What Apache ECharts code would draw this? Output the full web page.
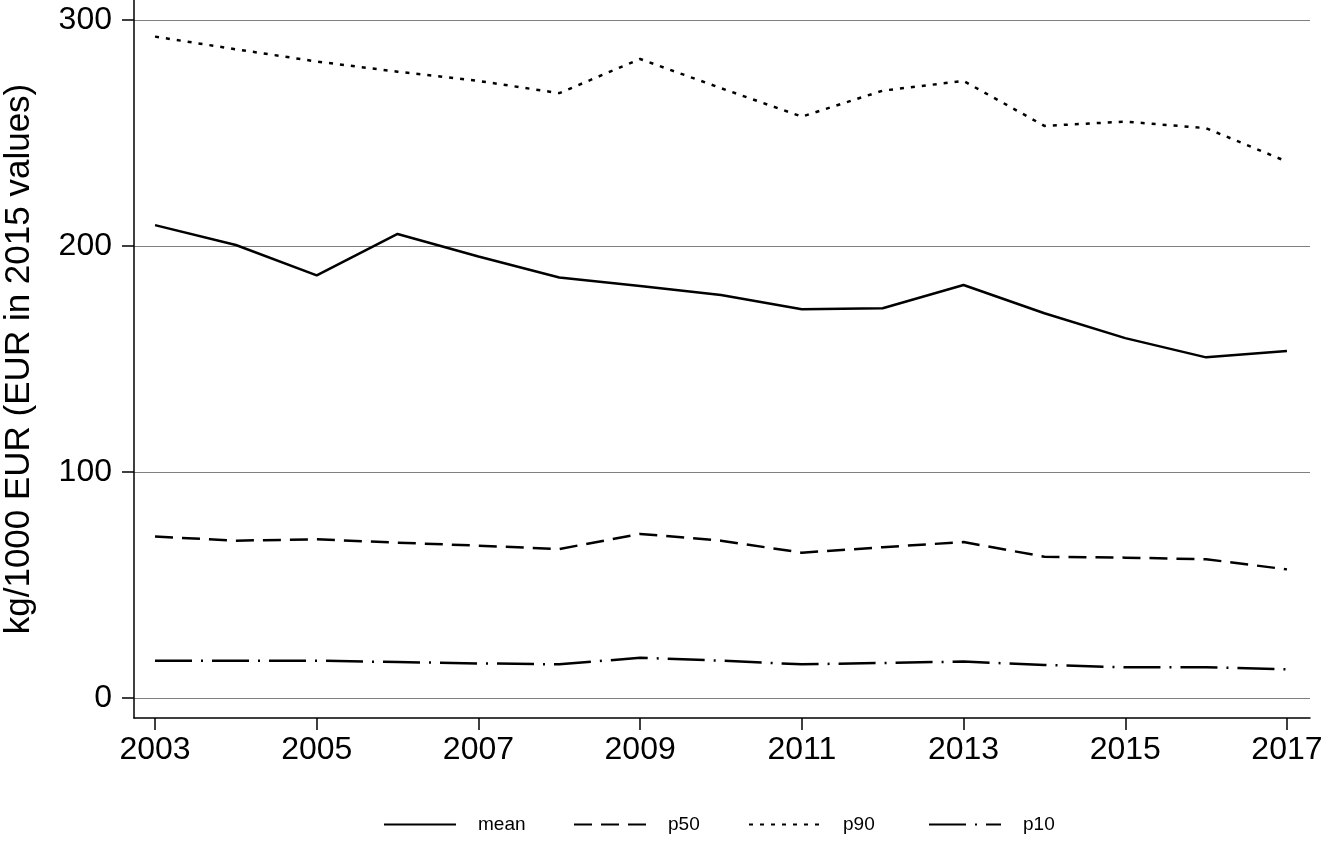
<!DOCTYPE html>
<html>
<head>
<meta charset="utf-8">
<script src="https://cdn.jsdelivr.net/npm/echarts@6/dist/echarts.min.js"></script>
<style>
html,body{margin:0;padding:0;background:#fff;}
#c{width:1323px;height:851px;}
</style>
</head>
<body>
<div id="c"></div>
<script>
const years = [2003,2004,2005,2006,2007,2008,2009,2010,2011,2012,2013,2014,2015,2016,2017];
const meanVals = [209.2,200.4,187.0,205.3,195.3,186.0,182.3,178.3,172.0,172.4,182.7,170.2,159.2,150.7,153.5];
const p50Vals  = [71.4,69.6,70.2,68.7,67.4,65.9,72.6,69.6,64.3,66.7,69.0,62.5,62.1,61.4,56.9];
const p90Vals  = [292.6,287.0,281.6,277.1,273.0,267.6,282.7,269.8,257.2,268.7,273.0,253.1,255.0,252.1,237.3];
const p10Vals  = [16.5,16.5,16.5,15.9,15.3,14.9,17.8,16.5,14.9,15.5,16.1,14.6,13.6,13.6,12.7];
const xTicks = [2003,2005,2007,2009,2011,2013,2015,2017];
const yTicks = [0,100,200,300];
const seriesNames = ['mean','p50','p90','p10'];

const font = '"Liberation Sans", Arial, Helvetica, sans-serif';
const pairs = v => years.map((y,i)=>[y,v[i]]);
const chart = echarts.init(document.getElementById('c'), null, {renderer:'canvas'});
const mk = (name, vals, type) => ({
  name, type:'line', data: pairs(vals), symbol:'none', animation:false,
  lineStyle:{color:'#000', width:2.5, type}, itemStyle:{color:'#000'}
});
const legendLefts = [383, 573, 748, 928];
const legends = seriesNames.map((n, i) => ({
  data:[n], left:legendLefts[i], top:815, padding:0, orient:'horizontal',
  itemWidth:72, itemHeight:14,
  itemStyle:{color:'rgba(0,0,0,0)', borderWidth:0, opacity:0},
  textStyle:{fontSize:19, color:'#000', fontFamily:font, padding:[0,0,0,17]},
  selectedMode:false
}));
chart.setOption({
  backgroundColor:'#fff',
  animation:false,
  grid:{left:134, right:13, top:0, bottom:133, containLabel:false, outerBoundsMode:'none'},
  xAxis:{
    type:'value', min:2002.74, max:2017.285,
    axisLine:{show:true, onZero:false, lineStyle:{color:'#000', width:1.5}},
    axisTick:{show:true, length:12, customValues:xTicks, lineStyle:{color:'#000', width:1.5}},
    axisLabel:{customValues:xTicks, fontSize:32, color:'#000', fontFamily:font, margin:16,
      formatter: v => String(v), showMinLabel:true, showMaxLabel:true, hideOverlap:false},
    splitLine:{show:false}
  },
  yAxis:{
    type:'value', min:-8.85, max:308.8,
    name:'kg/1000 EUR (EUR in 2015 values)', nameLocation:'middle', nameGap:97,
    nameTextStyle:{fontSize:35, color:'#000', fontFamily:font},
    axisLine:{show:true, onZero:false, lineStyle:{color:'#000', width:1.5}},
    axisTick:{show:true, length:12, customValues:yTicks, lineStyle:{color:'#000', width:1.5}},
    axisLabel:{customValues:yTicks, fontSize:32, color:'#000', fontFamily:font, margin:22,
      formatter: v => String(v)},
    splitLine:{show:true, lineStyle:{color:'#808080', width:1}}
  },
  legend: legends,
  series:[
    mk(seriesNames[0], meanVals, 'solid'),
    mk(seriesNames[1], p50Vals, [18,9]),
    mk(seriesNames[2], p90Vals, [4,7]),
    mk(seriesNames[3], p10Vals, [37,9,2,9])
  ]
});
</script>
</body>
</html>
